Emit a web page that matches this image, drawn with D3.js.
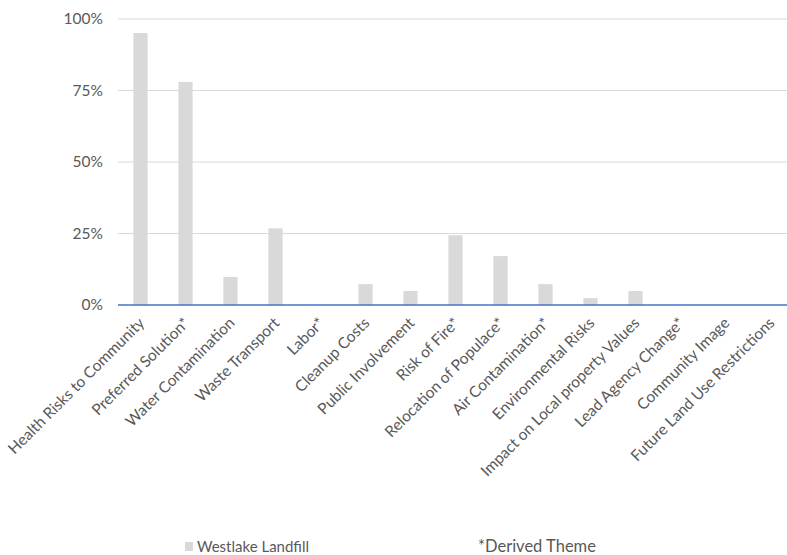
<!DOCTYPE html>
<html>
<head>
<meta charset="utf-8">
<script src="https://cdn.jsdelivr.net/npm/d3@7"></script>
<style>
  html, body { margin: 0; padding: 0; background: #fff; }
  svg { display: block; }
  text { font-family: Lato, "Open Sans", sans-serif; fill: #595959; }
</style>
</head>
<body>
<svg id="chart" width="787" height="555"></svg>
<script>
// Share of responses mentioning each theme (Westlake Landfill)
const categories = [
  "Health Risks to Community",
  "Preferred Solution*",
  "Water Contamination",
  "Waste Transport",
  "Labor*",
  "Cleanup Costs",
  "Public Involvement",
  "Risk of Fire*",
  "Relocation of Populace*",
  "Air Contamination*",
  "Environmental Risks",
  "Impact on Local property Values",
  "Lead Agency Change*",
  "Community Image",
  "Future Land Use Restrictions"
];
const westlake = [0.951, 0.780, 0.098, 0.268, 0, 0.073, 0.049, 0.244, 0.171, 0.073, 0.024, 0.049, 0, 0, 0];
const yTicks = [0, 0.25, 0.5, 0.75, 1];
const seriesName = "Westlake Landfill";
const noteText = "*Derived Theme";

const svg = d3.select("#chart");
const margin = { left: 118, top: 19 };
const plotW = 675, plotH = 286;

const x = d3.scaleBand().domain(categories).range([margin.left, margin.left + plotW]).paddingInner(0.685).paddingOuter(0.3425);
const y = d3.scaleLinear().domain([0, 1]).range([margin.top + plotH, margin.top]);

// gridlines
svg.append("g").selectAll("line").data(yTicks.filter(d => d > 0)).join("line")
  .attr("x1", margin.left).attr("x2", margin.left + plotW)
  .attr("y1", d => y(d)).attr("y2", d => y(d))
  .attr("stroke", "#d9d9d9").attr("stroke-width", 1);

// y axis labels
const yAxis = d3.axisLeft(y).tickValues(yTicks).tickFormat(d3.format(".0%")).tickSize(0).tickPadding(15);
const ya = svg.append("g").attr("transform", `translate(${margin.left},0)`).call(yAxis);
ya.select(".domain").remove();
ya.selectAll("text").attr("font-size", 15.5).attr("fill", "#595959")
  .style("font-family", 'Lato, sans-serif');

// bars
svg.append("g").selectAll("rect").data(categories).join("rect")
  .attr("x", d => x(d))
  .attr("width", x.bandwidth())
  .attr("y", (d, i) => y(westlake[i]))
  .attr("height", (d, i) => y(0) - y(westlake[i]))
  .attr("fill", "#d9d9d9");

// baseline
svg.append("line")
  .attr("x1", margin.left).attr("x2", margin.left + plotW)
  .attr("y1", y(0)).attr("y2", y(0))
  .attr("stroke", "#4472c4").attr("stroke-width", 1.5);

// category labels
svg.append("g").selectAll("text").data(categories).join("text")
  .attr("transform", d => `translate(${x(d) + x.bandwidth() / 2 + 5},${y(0) + 19}) rotate(-45)`)
  .attr("text-anchor", "end")
  .attr("font-size", 15.5)
  .text(d => d);

// legend
const lg = svg.append("g");
lg.append("rect").attr("x", 185).attr("y", 542).attr("width", 8).attr("height", 9).attr("fill", "#d9d9d9");
lg.append("text").attr("x", 197).attr("y", 552).attr("font-size", 15).text(seriesName);
lg.append("text").attr("x", 478).attr("y", 552).attr("font-size", 16.5).text(noteText);
</script>
</body>
</html>
